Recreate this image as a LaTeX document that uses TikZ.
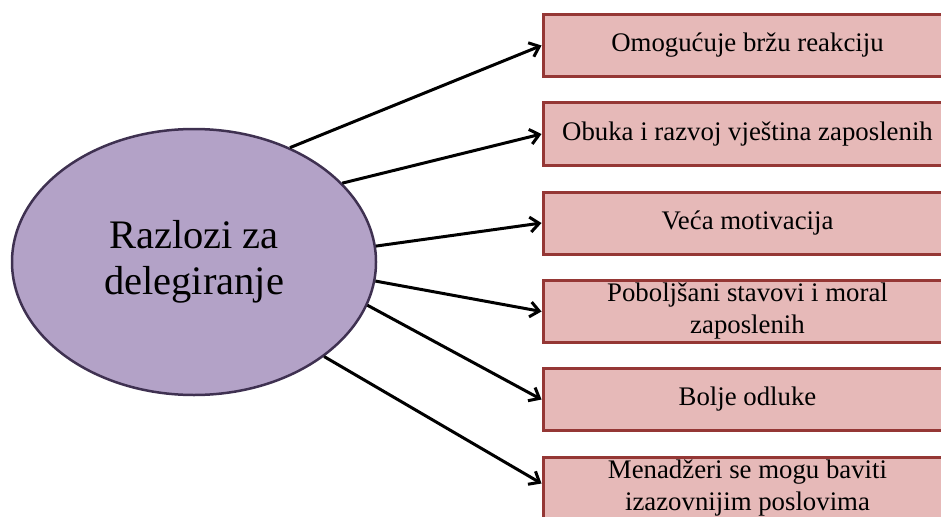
\documentclass[tikz,border=0pt]{standalone}
\usepackage{fontspec}
\setmainfont{Liberation Serif}
\usetikzlibrary{shapes.geometric,arrows.meta}
\definecolor{ellfill}{HTML}{B3A2C7}
\definecolor{ellline}{HTML}{3F3151}
\definecolor{boxfill}{HTML}{E6B9B8}
\definecolor{boxline}{HTML}{953735}
\tikzset{
  reasonbox/.style={rectangle, draw=boxline, fill=boxfill, line width=3pt,
    minimum width=409pt, minimum height=62pt, inner sep=0pt, align=center,
    font=\fontsize{26.8}{32}\selectfont},
  conn/.style={line width=3pt, -{Straight Barb[length=9pt,width=15pt,line width=3pt]}}
}
\begin{document}
\begin{tikzpicture}[x=1pt,y=-1pt]
\useasboundingbox (0,0) rectangle (941,516);
\node[ellipse, draw=ellline, fill=ellfill, line width=2.5pt, minimum width=364pt,
  minimum height=266pt, inner sep=0pt, align=center,
  font=\fontsize{40.5}{46}\selectfont] (e) at (194,262) {Razlozi za\\delegiranje};
\node[reasonbox] (b1) at (747.5,45.5) {Omogućuje bržu reakciju};
\node[reasonbox] (b2) at (747.5,134) {Obuka i razvoj vještina zaposlenih};
\node[reasonbox] (b3) at (747.5,223) {Veća motivacija};
\node[reasonbox] (b4) at (747.5,311.5) {Poboljšani stavovi i moral\\zaposlenih};
\node[reasonbox] (b5) at (747.5,399.5) {Bolje odluke};
\node[reasonbox] (b6) at (747.5,488.5) {Menadžeri se mogu baviti\\izazovnijim poslovima};
\draw[conn] (e.50.8) -- (b1.west);
\draw[conn] (e.28.4) -- (b2.west);
\draw[conn] (e.5.3) -- (b3.west);
\draw[conn] (e.-6) -- (b4.west);
\draw[conn] (e.-14.9) -- (b5.west);
\draw[conn] (e.-36.7) -- ([yshift=5pt]b6.west);
\end{tikzpicture}
\end{document}
